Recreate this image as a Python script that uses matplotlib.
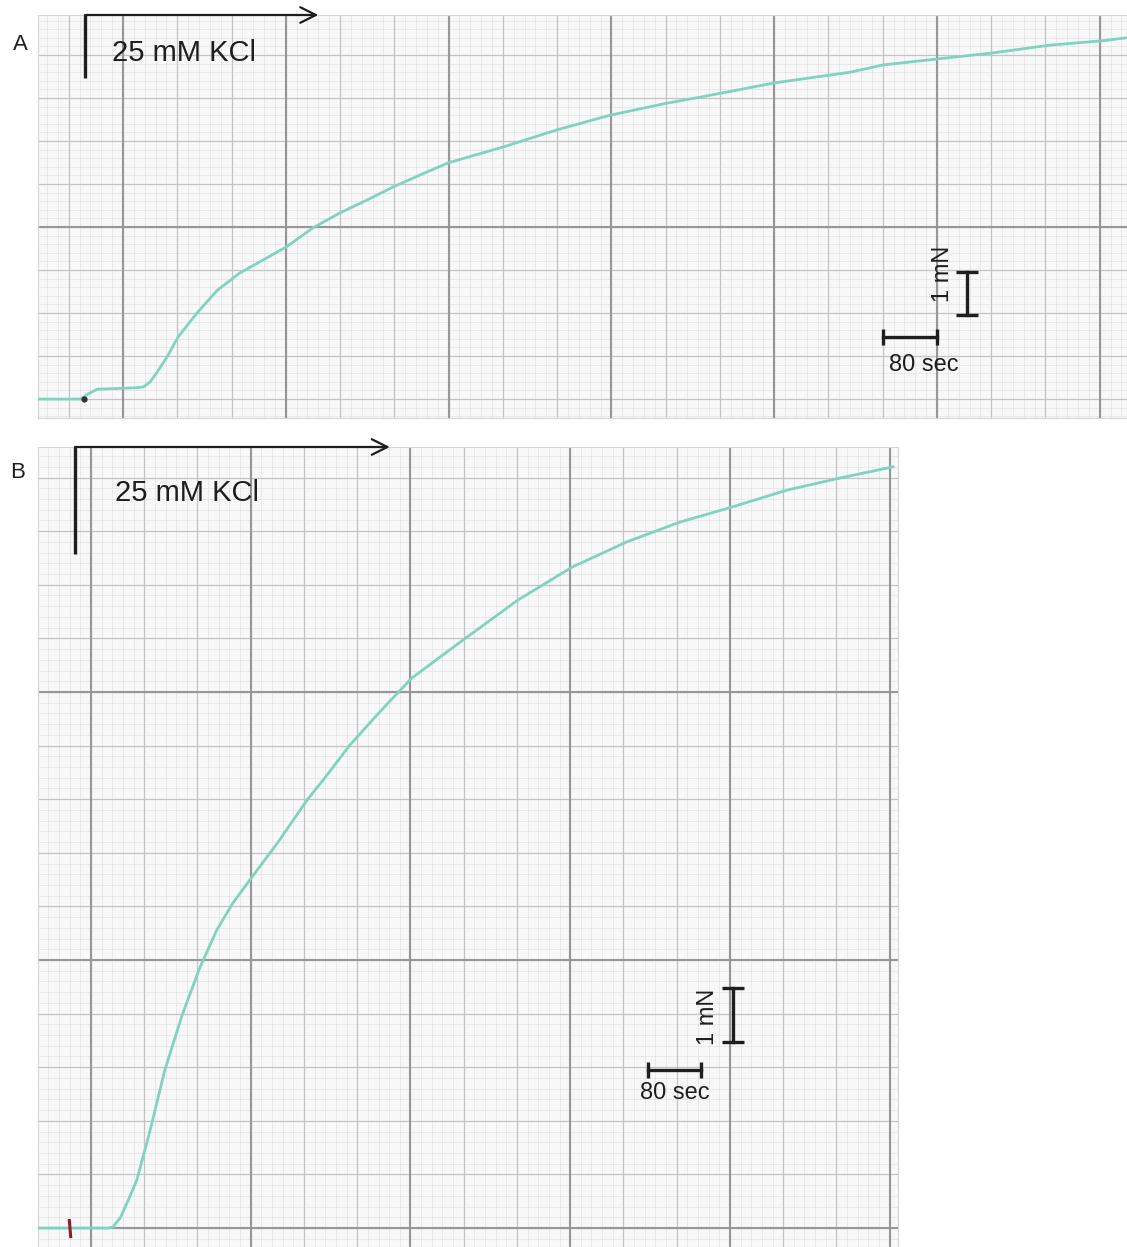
import numpy as np
import matplotlib
matplotlib.use("Agg")
import matplotlib.pyplot as plt

plt.rcParams['font.family'] = ['Liberation Sans', 'DejaVu Sans']

# Chart recorder traces: time after KCl (s), tension above baseline (mN)
a_time = [-69, -7, 7, 18, 37, 71, 86, 96, 106, 121, 137, 165, 195, 228, 262, 296,
          336, 376, 416, 454, 494, 535, 616, 696, 774, 858, 907, 1016, 1128, 1177,
          1258, 1339, 1423, 1499, 1536]
a_tension = [0, 0, 0.14, 0.23, 0.24, 0.26, 0.28, 0.40, 0.62, 0.98, 1.44, 2.0, 2.53,
             2.93, 3.23, 3.53, 3.98, 4.33, 4.63, 4.93, 5.21, 5.49, 5.86, 6.26, 6.60,
             6.88, 7.02, 7.35, 7.60, 7.77, 7.91, 8.05, 8.23, 8.33, 8.40]

b_time = [-56, -8, 50, 57, 68, 80, 93, 113, 135, 162, 188, 213, 237, 266, 304, 349,
          373, 413, 458, 506, 583, 666, 747, 829, 909, 987, 1071, 1149, 1229]
b_tension = [0, 0, 0, 0.02, 0.19, 0.52, 0.90, 1.83, 2.95, 4.01, 4.87, 5.56, 6.06,
             6.55, 7.18, 7.99, 8.36, 9.01, 9.63, 10.26, 10.97, 11.72, 12.33, 12.80,
             13.17, 13.45, 13.77, 13.99, 14.20]

stimulus = '25 mM KCl'
scale_time = 80     # sec
scale_force = 1     # mN

TRACE = '#7fd3bf'
INK = '#1e1e1e'


def chart_paper(ax, xlim, ylim, x0, y0):
    """Recorder paper: fine 16 s / 0.2 mN, medium 80 s / 1 mN, heavy 240 s / 5 mN."""
    ax.set_facecolor('#f8f8f8')
    ax.set_xlim(*xlim)
    ax.set_ylim(*ylim)
    levels = [(16, 0.2, '#e3e3e3', 0.5),
              (80, 1, '#c3c3c3', 0.9),
              (240, 5, '#979797', 1.5)]
    for z, (xstep, ystep, col, lw) in enumerate(levels):
        for x in np.arange(x0 - 2400, xlim[1], xstep):
            if x > xlim[0]:
                ax.axvline(x, color=col, lw=lw, zorder=1 + z * 0.1)
        for y in np.arange(y0 - 10, ylim[1], ystep):
            if y > ylim[0]:
                ax.axhline(y, color=col, lw=lw, zorder=1 + z * 0.1)
    ax.set_xticks([])
    ax.set_yticks([])
    for s in ax.spines.values():
        s.set_color('#d4d4d4')
        s.set_linewidth(0.8)


def stimulus_marker(ax, top, drop, arrow_end, text_xy):
    ax.plot([0, 0], [top, top - drop], color=INK, lw=2.4, clip_on=False, zorder=5,
            solid_capstyle='butt')
    ax.annotate('', xy=(arrow_end, top), xytext=(0, top), annotation_clip=False,
                arrowprops=dict(arrowstyle='->', lw=1.6, color=INK, mutation_scale=28,
                                shrinkA=0, shrinkB=0), zorder=5)
    ax.text(text_xy[0], text_xy[1], stimulus, fontsize=21, color=INK,
            ha='left', va='center', zorder=5)


def scale_bars(ax, vbar, hbar, vtext, htext):
    ax.plot([vbar[0], vbar[0]], [vbar[1], vbar[1] + scale_force], color=INK, lw=2.4,
            marker='_', markersize=16, mew=2.4, zorder=5)
    ax.plot([hbar[0], hbar[0] + scale_time], [hbar[1], hbar[1]], color=INK, lw=2.4,
            marker='|', markersize=12, mew=2.4, zorder=5)
    ax.text(vtext[0], vtext[1], f'{scale_force} mN', fontsize=17, color=INK,
            rotation=90, ha='center', va='center', zorder=5)
    ax.text(htext[0], htext[1], f'{scale_time} sec', fontsize=17, color=INK,
            ha='center', va='center', zorder=5)


W, H = 1127, 1247
fig = plt.figure(figsize=(W / 100, H / 100), dpi=100)

# Panel A
axA = fig.add_axes([38 / W, 1 - 418 / H, (1127 - 38) / W, (418 - 15) / H])
chart_paper(axA, (-69.3, 1536.2), (-0.44, 8.93), x0=56, y0=4)
axA.plot(a_time, a_tension, color=TRACE, lw=2.0, zorder=3, solid_joinstyle='round')
axA.plot([-1.5], [0], marker='o', color='#333333', markersize=3.5, zorder=4)
stimulus_marker(axA, top=8.93, drop=1.46, arrow_end=344, text_xy=(40, 8.05))
scale_bars(axA, vbar=(1300, 1.95), hbar=(1176.5, 1.44), vtext=(1265, 2.9), htext=(1237, 0.79))
fig.text(20 / W, 1 - 45 / H, 'A', fontsize=16, color=INK, ha='center', va='center')

# Panel B
axB = fig.add_axes([38 / W, 0, (898 - 38) / W, (1247 - 447) / H])
chart_paper(axB, (-55.6, 1236.5), (-0.354, 14.57), x0=24, y0=0)
axB.plot(b_time, b_tension, color=TRACE, lw=2.0, zorder=3, solid_joinstyle='round')
axB.plot([-8.5, -6.5], [0.14, -0.16], color='#8a1f2a', lw=2.2, zorder=4)
stimulus_marker(axB, top=14.57, drop=2.0, arrow_end=473, text_xy=(60, 13.71))
scale_bars(axB, vbar=(988.6, 3.47), hbar=(861, 2.95), vtext=(951, 3.94), htext=(901, 2.52))
fig.text(18 / W, 1 - 472 / H, 'B', fontsize=16, color=INK, ha='center', va='center')

fig.savefig('out.png', dpi=100, facecolor='white')
